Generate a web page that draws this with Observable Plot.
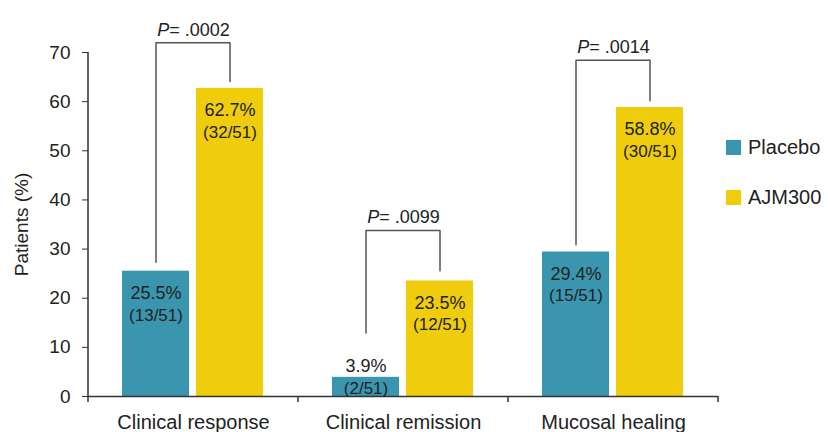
<!DOCTYPE html>
<html>
<head>
<meta charset="utf-8">
<script src="https://cdn.jsdelivr.net/npm/d3@7"></script>
<script src="https://cdn.jsdelivr.net/npm/@observablehq/plot@0.6"></script>
<style>
  html, body { margin: 0; padding: 0; background: #fff; }
  #wrap { position: relative; width: 828px; height: 432px; font-family: "Liberation Sans", Arial, Helvetica, sans-serif; }
  #legend { position: absolute; left: 726px; top: 122px; color: #222; font-size: 20px; }
  #legend .row { display: flex; align-items: center; height: 50px; }
  #legend .sw { width: 15px; height: 15px; margin-right: 7px; }
</style>
</head>
<body>
<div id="wrap"><div id="legend"></div></div>
<script>
const categories = ["Clinical response", "Clinical remission", "Mucosal healing"];
const series = ["Placebo", "AJM300"];
const placebo = [25.5, 3.9, 29.4];
const ajm300 = [62.7, 23.5, 58.8];
const placeboN = ["13/51", "2/51", "15/51"];
const ajm300N = ["32/51", "12/51", "30/51"];
const pValues = [".0002", ".0099", ".0014"];
const bracketTop = [72, 33.8, 68.4];
const bracketPlaceboEnd = [27.3, 12.9, 30.9];
const bracketAjmEnd = [64.1, 25.6, 60.2];
const yTicks = [0, 10, 20, 30, 40, 50, 60, 70];
const colors = ["#3a95ae", "#efcc0c"];

const bars = categories.flatMap((c, i) => [
  {category: c, series: series[0], value: placebo[i], n: placeboN[i]},
  {category: c, series: series[1], value: ajm300[i], n: ajm300N[i]}
]);
const inside = bars.filter(d => d.value >= 10);
const above = bars.filter(d => d.value < 10);
const brackets = categories.flatMap((c, i) => [
  {category: c, series: series[0], y: bracketPlaceboEnd[i]},
  {category: c, series: series[0], y: bracketTop[i]},
  {category: c, series: series[1], y: bracketTop[i]},
  {category: c, series: series[1], y: bracketAjmEnd[i]}
]);
const pData = categories.map((c, i) => ({category: c, top: bracketTop[i], p: pValues[i]}));

const plot = Plot.plot({
  width: 828,
  height: 432,
  marginLeft: 87,
  marginRight: 110,
  marginTop: 52,
  marginBottom: 36,
  style: {fontFamily: "Liberation Sans, Arial, Helvetica, sans-serif", color: "#222", background: "#fff"},
  fx: {domain: categories, padding: 0},
  x: {domain: series, paddingInner: 0.093, paddingOuter: 0.453, axis: null},
  y: {domain: [0, 70]},
  color: {domain: series, range: colors},
  marks: [
    Plot.barY(bars, {fx: "category", x: "series", y: "value", fill: "series"}),
    Plot.ruleY([0], {stroke: "#333", strokeWidth: 1.5}),
    Plot.axisY({ticks: yTicks, tickSize: 6, tickPadding: 12, fontSize: 19, stroke: "#333",
      label: "Patients (%)", labelAnchor: "center", labelOffset: 74, labelArrow: "none"}),
    Plot.axisFx({anchor: "bottom", tickSize: 0, tickPadding: 18, fontSize: 20, label: null}),
    Plot.line(brackets, {fx: "category", x: "series", y: "y", z: "category", stroke: "#555", strokeWidth: 1.5}),
    Plot.text(pData, {fx: "category", y: "top", text: d => "P= " + d.p, lineAnchor: "bottom", dy: -7, fontSize: 18}),
    Plot.text(inside, {fx: "category", x: "series", y: "value", text: d => d.value.toFixed(1) + "%", dy: 22, fontSize: 18}),
    Plot.text(inside, {fx: "category", x: "series", y: "value", text: d => "(" + d.n + ")", dy: 44, fontSize: 17}),
    Plot.text(above, {fx: "category", x: "series", y: "value", text: d => d.value.toFixed(1) + "%", dy: -11, fontSize: 18}),
    Plot.text(above, {fx: "category", x: "series", y: "value", text: d => "(" + d.n + ")", dy: 11, fontSize: 17})
  ]
});

// boundary ticks on the category axis and the y axis line, from the plot's own scales
const fx = plot.scale("fx");
const ys = plot.scale("y");
const svg = d3.select(plot);
const y0 = ys.apply(0);
const edges = categories.map(c => fx.apply(c)).concat([fx.apply(categories[categories.length - 1]) + fx.bandwidth]);
const g = svg.append("g").attr("stroke", "#333").attr("stroke-width", 1.5);
edges.forEach(x => g.append("line").attr("x1", x).attr("x2", x).attr("y1", y0).attr("y2", y0 + 6));
g.append("line").attr("x1", edges[0]).attr("x2", edges[0]).attr("y1", ys.apply(70)).attr("y2", y0);

// italic P in the p-value labels
svg.selectAll("text").each(function() {
  const t = this.textContent;
  if (!t.startsWith("P= ")) return;
  while (this.firstChild) this.removeChild(this.firstChild);
  const s = d3.select(this);
  s.append("tspan").attr("font-style", "italic").text("P");
  s.append("tspan").text(t.slice(1));
});

const wrap = document.getElementById("wrap");
wrap.insertBefore(plot, wrap.firstChild);

const legend = d3.select("#legend");
series.forEach((s, i) => {
  const row = legend.append("div").attr("class", "row");
  row.append("div").attr("class", "sw").style("background", colors[i]);
  row.append("span").text(s);
});
</script>
</body>
</html>
